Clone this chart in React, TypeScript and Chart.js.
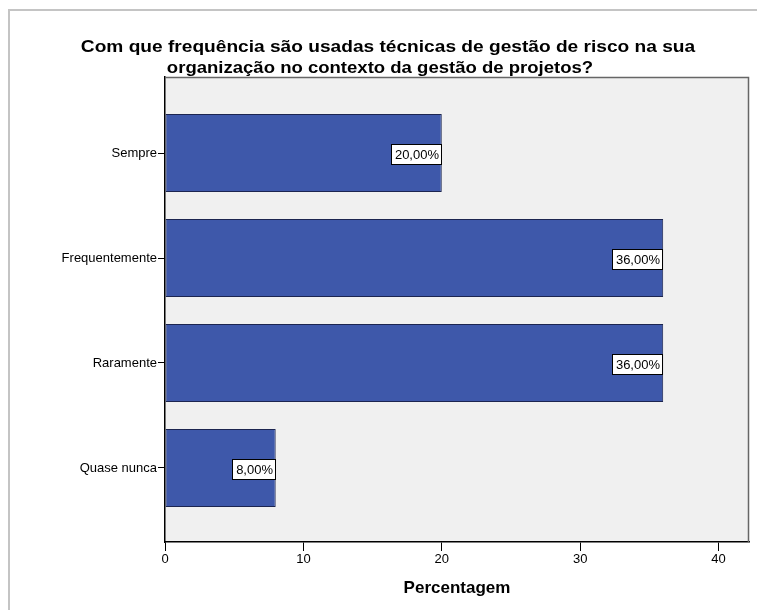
import React, { useEffect, useRef } from 'react';
import { Chart, registerables } from 'chart.js';

Chart.register(...registerables);

const categories = ['Sempre', 'Frequentemente', 'Raramente', 'Quase nunca'];
const percentages = [20, 36, 36, 8];
const xTicks = [0, 10, 20, 30, 40];
const titleLines = [
  'Com que frequência são usadas técnicas de gestão de risco na sua',
  'organização no contexto da gestão de projetos?',
];
const axisTitle = 'Percentagem';

const FONT = '"Liberation Sans", Arial, sans-serif';

const fmt = (v: number) => v.toFixed(2).replace('.', ',') + '%';

// Panel background, outer frame, plot border and titles
const panelPlugin = {
  id: 'panel',
  beforeDraw(chart: any) {
    const { ctx, chartArea: a } = chart;
    ctx.save();
    ctx.fillStyle = '#ffffff';
    ctx.fillRect(0, 0, chart.width, chart.height);
    ctx.strokeStyle = '#c4c4c4';
    ctx.lineWidth = 2;
    ctx.strokeRect(9, 10, chart.width + 20, chart.height + 20);
    ctx.fillStyle = '#f0f0f0';
    ctx.fillRect(a.left, a.top, a.right - a.left, a.bottom - a.top);
    ctx.restore();
  },
  afterDraw(chart: any) {
    const { ctx, chartArea: a } = chart;
    ctx.save();
    ctx.strokeStyle = '#666666';
    ctx.lineWidth = 1.5;
    ctx.beginPath();
    ctx.moveTo(a.left, a.top + 0.5);
    ctx.lineTo(a.right - 0.5, a.top + 0.5);
    ctx.lineTo(a.right - 0.5, a.bottom);
    ctx.stroke();

    // chart title, slightly widened
    ctx.fillStyle = '#000';
    ctx.textAlign = 'center';
    ctx.textBaseline = 'alphabetic';
    ctx.font = `bold 17px ${FONT}`;
    const lines = [
      { x: 388, y: 52, sx: 1.125 },
      { x: 380, y: 73, sx: 1.09 },
    ];
    lines.forEach((l, i) => {
      ctx.save();
      ctx.translate(l.x, l.y);
      ctx.scale(l.sx, 1);
      ctx.fillText(titleLines[i], 0, 0);
      ctx.restore();
    });

    // value axis title
    const xs = chart.scales.x;
    ctx.font = `bold 17px ${FONT}`;
    ctx.fillText(axisTitle, (xs.left + xs.right) / 2, 593);
    ctx.restore();
  },
};

// Value boxes at the end of each bar
const valueLabelPlugin = {
  id: 'valueLabels',
  afterDatasetsDraw(chart: any) {
    const { ctx } = chart;
    const meta = chart.getDatasetMeta(0);
    ctx.save();
    ctx.font = `13px ${FONT}`;
    ctx.textBaseline = 'middle';
    ctx.textAlign = 'right';
    meta.data.forEach((bar: any, i: number) => {
      const text = fmt(percentages[i]);
      const w = ctx.measureText(text).width;
      const right = Math.round(bar.x);
      const cy = Math.round(bar.y) + 1.5;
      const bw = Math.round(w + 7);
      const bh = 21;
      const top = Math.round(cy - bh / 2);
      ctx.fillStyle = '#ffffff';
      ctx.fillRect(right - bw, top, bw, bh);
      ctx.strokeStyle = '#000';
      ctx.lineWidth = 1;
      ctx.strokeRect(right - bw + 0.5, top + 0.5, bw - 1, bh - 1);
      ctx.fillStyle = '#000';
      ctx.fillText(text, right - 3, top + bh / 2 + 1);
    });
    ctx.restore();
  },
};

export default function App() {
  const ref = useRef<HTMLCanvasElement | null>(null);

  useEffect(() => {
    if (!ref.current) return;
    const chart = new Chart(ref.current, {
      type: 'bar',
      data: {
        datasets: [
          {
            data: percentages.map((v, i) => ({ x: v, y: i })),
            backgroundColor: '#3e58aa',
            borderColor: '#1c2550',
            borderWidth: 1,
            borderSkipped: false,
            barPercentage: 0.743,
            categoryPercentage: 1,
          },
        ],
      },
      options: {
        indexAxis: 'y',
        animation: false,
        responsive: false,
        maintainAspectRatio: false,
        layout: { padding: { left: 0, top: 77, right: 8, bottom: 0 } },
        plugins: {
          legend: { display: false },
          title: { display: false },
          tooltip: { enabled: false },
        },
        scales: {
          x: {
            type: 'linear',
            min: 0,
            max: 42.2,
            offset: false,
            afterBuildTicks: (s: any) => {
              s.ticks = xTicks.map((v) => ({ value: v }));
            },
            afterFit: (s: any) => {
              s.height = 610 - 542;
            },
            grid: { display: true, drawOnChartArea: false, drawTicks: true, tickLength: 9, color: '#000', offset: false },
            border: { display: true, color: '#000', width: 1.5 },
            ticks: { color: '#000', font: { family: FONT, size: 13 }, padding: 1, maxRotation: 0 },
          },
          y: {
            type: 'linear',
            reverse: true,
            min: -0.724,
            max: 3.705,
            offset: false,
            afterBuildTicks: (s: any) => {
              s.ticks = categories.map((_, i) => ({ value: i }));
            },
            afterFit: (s: any) => {
              s.width = 165;
            },
            grid: { display: true, drawOnChartArea: false, drawTicks: true, tickLength: 7, color: '#000', offset: false },
            border: { display: true, color: '#000', width: 1.5 },
            ticks: {
              color: '#000',
              font: { family: FONT, size: 13 },
              padding: 1,
              callback: (v: any) => categories[v as number] ?? '',
            },
          },
        },
      },
      plugins: [panelPlugin, valueLabelPlugin],
    });
    return () => chart.destroy();
  }, []);

  return (
    <div style={{ position: 'fixed', left: 0, top: 0, width: 757, height: 610, background: '#fff' }}>
      <canvas ref={ref} width={757} height={610} style={{ display: 'block', width: 757, height: 610 }} />
    </div>
  );
}
